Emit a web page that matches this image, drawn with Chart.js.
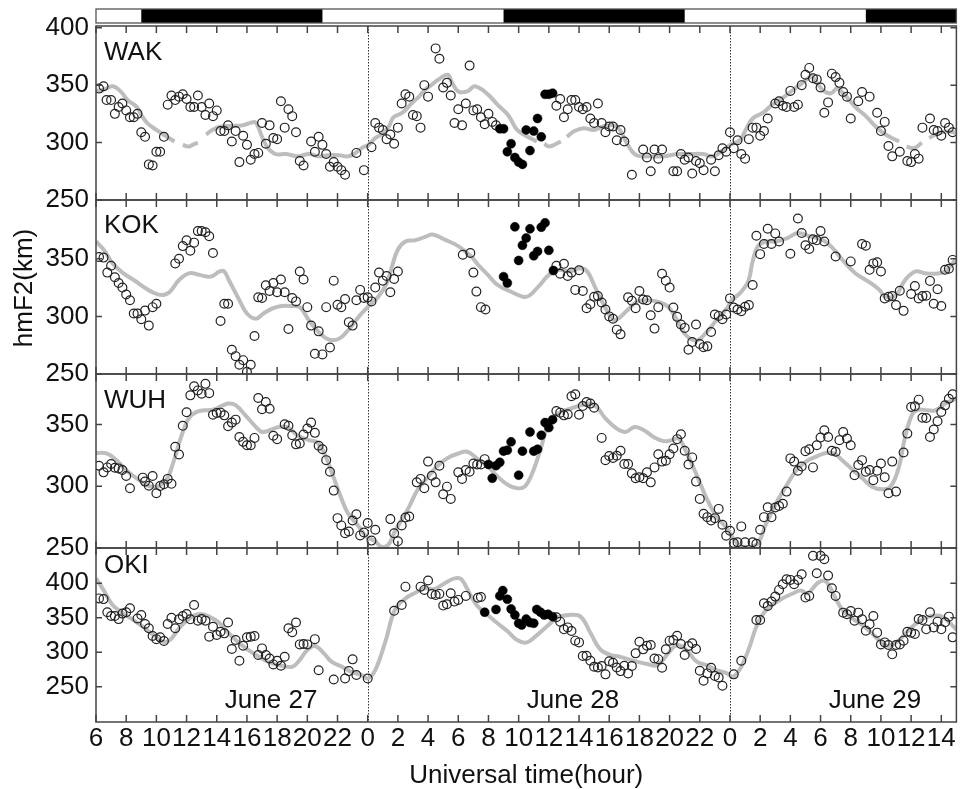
<!DOCTYPE html>
<html><head><meta charset="utf-8">
<script src="https://cdn.jsdelivr.net/npm/chart.js@4/dist/chart.umd.min.js"></script>
<style>html,body{margin:0;padding:0;background:#fff;}#wrap{position:relative;width:962px;height:789px;}canvas{display:block;}</style>
</head><body><div id="wrap"><canvas id="c" width="962" height="789"></canvas></div>
<script>
const stations = ['WAK','KOK','WUH','OKI'];
const dateLabels = ['June 27','June 28','June 29'];
const dateLabelHours = [17.6, 37.6, 57.6];
const dayBoundaryHours = [24, 48];
const nightStartHours = [9, 33, 57];
const nightEndHours = [21, 45, 63];
const xTickHours = [6,8,10,12,14,16,18,20,22,24,26,28,30,32,34,36,38,40,42,44,46,48,50,52,54,56,58,60,62];
const yTicksWAK = [250,300,350,400];
const yTicksKOK = [250,300,350];
const yTicksWUH = [250,300,350];
const yTicksOKI = [250,300,350,400];
const yRangeWAK = [250,401.5];
const yRangeKOK = [250,401];
const yRangeWUH = [250,391];
const yRangeOKI = [199,451];

const wakObs = [[6.2,347],[6.5,349],[6.7,337],[7.0,337],[7.25,325],[7.5,331],[7.75,334],[8.0,328],[8.25,322],[8.5,322],[8.75,325],[9.0,309],[9.25,305],[9.5,281],[9.75,280],[10.0,292],[10.25,292],[10.5,305],[10.75,333],[11.0,341],[11.25,337],[11.5,340],[11.75,342],[12.0,338],[12.25,331],[12.5,331],[12.75,341],[13.0,331],[13.25,324],[13.5,334],[13.75,323],[14.0,328],[14.25,310],[14.5,310],[14.75,315],[15.0,301],[15.25,310],[15.5,283],[15.75,306],[16.0,298],[16.25,285],[16.5,290],[16.75,291],[17.0,317],[17.25,299],[17.5,315],[17.75,304],[18.0,303],[18.25,336],[18.5,313],[18.75,329],[19.0,323],[19.25,309],[19.5,284],[19.75,280],[20.25,301],[20.5,292],[20.75,305],[21.0,298],[21.25,290],[21.5,279],[21.75,283],[22.0,279],[22.25,276],[22.5,272],[23.25,291],[23.75,276],[24.25,296],[24.5,317],[24.75,313],[25.0,311],[25.25,303],[25.5,307],[25.75,299],[26.0,313],[26.25,334],[26.5,342],[26.75,340],[27.0,324],[27.25,323],[27.5,313],[27.75,350],[28.0,340],[28.5,382],[28.75,373],[29.0,348],[29.25,352],[29.5,341],[29.75,317],[30.0,329],[30.25,315],[30.5,334],[30.75,367],[31.0,328],[31.25,329],[31.5,322],[31.75,316],[32.0,325],[32.25,318],[32.5,315],[36.5,332],[36.75,338],[37.0,322],[37.25,329],[37.5,337],[37.75,337],[38.0,331],[38.25,329],[38.5,331],[38.75,321],[39.0,317],[39.25,334],[39.5,317],[39.75,309],[40.0,314],[40.25,314],[40.5,302],[40.75,311],[41.0,301],[41.5,272],[42.25,294],[42.5,287],[42.75,275],[43.0,294],[43.25,286],[43.5,294],[44.25,275],[44.5,275],[44.75,290],[45.0,285],[45.25,287],[45.5,273],[45.75,284],[46.0,282],[46.25,276],[46.75,285],[47.0,275],[47.25,289],[47.5,295],[47.75,292],[48.0,309],[48.25,295],[48.5,302],[48.75,290],[49.0,286],[49.25,303],[49.5,313],[49.75,313],[50.0,306],[50.25,310],[50.5,321],[51.0,334],[51.25,336],[51.5,332],[51.75,331],[52.0,345],[52.25,331],[52.5,333],[52.75,350],[53.0,359],[53.25,365],[53.5,356],[53.75,355],[54.0,348],[54.25,326],[54.5,335],[54.75,360],[55.0,357],[55.25,352],[55.5,344],[55.75,340],[56.0,321],[56.5,336],[56.75,344],[57.25,340],[57.75,326],[58.0,310],[58.25,318],[58.5,297],[58.75,288],[59.25,292],[59.75,284],[60.0,283],[60.25,290],[60.5,286],[60.75,313],[61.25,321],[61.5,311],[61.75,310],[62.0,306],[62.25,317],[62.5,313],[62.75,309]];
const wakDark = [[32.75,312],[33.0,312],[33.25,292],[33.5,299],[33.75,287],[34.0,283],[34.25,281],[34.5,311],[34.75,293],[35.0,310],[35.25,321],[35.5,305],[35.75,342],[36.0,342],[36.25,343]];
const wakModel = [[6.0,345],[6.5,346],[7.1,349],[7.6,345],[8.1,337],[8.7,331],[9.0,324],[9.4,317],[10.0,311],[10.7,305],[11.2,301],[11.45,null],[11.75,298],[12.1,296.5],[12.4,298],[12.75,300],[13.0,null],[13.3,307],[13.7,311],[14.3,314],[15.05,314.5],[15.7,315],[16.5,318],[16.7,315],[17.0,305],[17.4,295],[17.9,290],[18.6,290],[19.4,288],[20.1,290],[20.75,288],[21.4,289],[22.1,289],[22.7,288],[23.2,291],[23.7,296],[24.05,298],[24.5,304],[24.9,307],[25.4,314],[25.7,322],[26.3,326],[26.9,334],[27.4,340],[27.8,346],[28.2,350],[28.7,355],[29.3,359],[29.6,352],[30.0,344.5],[30.6,344.5],[31.1,349],[31.96,342],[32.6,333],[33.3,324],[33.9,311],[34.6,305],[35.2,301],[35.45,null],[35.7,299],[36.0,296.5],[36.5,299],[36.8,301],[37.0,null],[37.2,305],[37.7,310],[38.3,312.5],[39.0,311],[39.6,314],[40.3,315],[40.7,311],[41.3,296.5],[41.8,289],[42.7,288],[43.6,288],[44.5,290],[45.35,290],[46.2,290],[46.9,288],[47.55,293.6],[48.0,298],[48.65,302],[49.1,312.5],[49.5,321],[50.2,326],[50.8,333],[51.5,339],[52.2,346],[52.8,352],[53.4,357.5],[53.7,353],[54.25,344.5],[54.7,343],[55.1,347],[55.7,340],[56.3,331],[57.0,323],[57.65,314],[58.3,307],[59.2,301],[59.45,null],[59.7,296.5],[60.1,295],[60.4,296.5],[60.7,300],[60.95,null],[61.2,304],[61.8,308],[62.5,309.6],[63.0,308.5]];

const kokObs = [[6.2,351.5],[6.5,351],[6.75,338],[7.0,344],[7.25,334],[7.5,329],[7.75,325],[8.0,319],[8.25,314],[8.5,302.5],[8.75,302.5],[9.0,297.5],[9.25,305],[9.5,292],[9.75,308],[10.0,311],[11.25,346],[11.5,350],[11.75,361],[12.0,366],[12.25,357],[12.5,364],[12.75,374],[13.0,374],[13.25,373],[13.5,369.5],[13.75,355],[14.25,296],[14.5,311],[14.75,311],[15.0,271],[15.25,265.5],[15.5,258],[15.75,262],[16.0,252],[16.25,258],[16.5,283],[16.75,316.5],[17.0,316],[17.25,327],[17.5,322],[17.75,329],[18.0,321],[18.25,332],[18.5,321],[18.75,289],[19.0,316],[19.25,313],[19.5,339],[19.75,332],[20.0,308],[20.25,292],[20.5,267.5],[20.75,287],[21.0,267],[21.25,308],[21.5,273],[21.75,331],[22.0,310],[22.25,308],[22.5,315],[22.75,295],[23.0,292],[23.25,314],[23.5,323],[23.75,316],[24.0,316.5],[24.25,313],[24.5,325],[24.75,338],[25.0,331],[25.25,335],[25.5,321],[25.75,332.5],[26.0,339],[30.3,353.5],[30.8,355],[31.0,338],[31.2,321.5],[31.5,308],[31.8,306],[36.5,344],[36.75,337],[37.0,345.6],[37.25,335],[37.5,338],[37.75,323],[38.0,340],[38.25,322],[38.5,307],[38.75,310.6],[39.0,317],[39.25,317.6],[39.5,312],[39.75,306],[40.0,300],[40.25,298],[40.5,288.5],[40.75,284.4],[41.25,316.5],[41.5,313.6],[41.75,307],[42.0,322],[42.25,314.7],[42.5,314],[42.75,301],[43.0,289.4],[43.25,308],[43.5,337],[43.75,331],[44.0,325],[44.25,307.7],[44.5,299.6],[44.75,293],[45.0,290],[45.25,271],[45.5,277.7],[45.75,293],[46.0,276],[46.25,273.3],[46.5,274],[46.75,286.4],[47.0,301.6],[47.25,300.4],[47.5,297.5],[47.75,301.6],[48.0,315.6],[48.25,307.7],[48.5,306],[48.75,304.5],[49.0,308.3],[49.25,309.8],[49.5,327.3],[49.75,370],[50.0,354],[50.25,362.8],[50.5,376],[50.75,362.8],[51.0,372],[51.25,365],[52.0,354.4],[52.5,385],[52.75,372.4],[53.0,361.7],[53.25,358.5],[53.5,367],[53.75,366],[54.0,374],[54.25,365],[55.0,352],[56.0,347.7],[56.75,362.8],[57.0,361.4],[57.25,340.4],[57.5,346],[57.75,347],[58.0,339],[58.25,315.6],[58.5,317],[58.75,317.6],[59.0,309.8],[59.25,322.3],[59.5,304.8],[60.0,319.4],[60.25,326.4],[60.5,315.6],[60.75,317.6],[61.0,318],[61.25,330.8],[61.5,311],[61.75,323.5],[62.0,309],[62.25,340.4],[62.5,341.3],[62.75,349]];
const kokDark = [[33.0,334.5],[33.25,329],[33.75,377.7],[34.0,348.5],[34.25,361.7],[34.5,368],[34.75,376],[35.0,352.6],[35.25,356.4],[35.5,377.4],[35.75,381.2],[36.0,357.3],[36.3,339.8]];
const kokModel = [[6.0,365],[6.5,358],[7.1,346],[7.8,337.5],[8.5,331.6],[9.1,326],[9.8,320.6],[10.4,318.5],[10.9,321.4],[11.5,331.6],[12.2,337.5],[12.85,336],[13.6,334.5],[14.2,339],[14.5,339],[14.8,331.6],[15.5,314],[16.0,302.5],[16.6,298],[17.1,302.5],[17.7,307],[18.3,309],[19.0,309],[19.5,308],[20.1,296.6],[20.75,286.4],[21.4,280],[22.1,280.6],[22.7,288],[23.4,299.6],[24.0,308],[24.7,317],[25.26,328.7],[25.6,343],[26.0,358],[26.5,365],[27.1,366],[27.8,369],[28.3,371],[29.1,366.6],[30.0,361],[30.86,352],[31.3,345],[31.96,336],[32.6,327.3],[33.5,321.4],[34.5,317],[35.25,325],[36.0,336],[36.7,340.4],[37.3,339],[38.1,341.8],[38.55,339],[39.1,324.3],[39.6,311],[40.2,298],[40.5,297.2],[41.2,305.4],[41.84,312.7],[42.5,314],[43.2,312.7],[43.9,308.3],[44.5,296.6],[45.1,283.5],[45.8,279.2],[46.45,286.4],[47.1,296.6],[47.8,307],[48.1,314],[48.65,320],[49.2,330],[49.5,347.7],[49.86,361],[50.4,365],[51.06,365],[51.8,368],[52.5,372.4],[53.26,369.5],[54.1,366.6],[54.8,359.3],[55.45,349],[56.3,337.5],[57.2,330],[57.9,323],[58.3,317],[59.0,318.5],[59.6,331.6],[60.3,339],[60.9,337.5],[61.6,337],[62.26,339],[63.0,350]];

const wuhObs = [[6.2,316.7],[6.5,311.3],[6.75,315.3],[7.0,318],[7.25,315],[7.5,314.5],[7.75,313.2],[8.0,308.3],[8.25,298.4],[9.1,307],[9.25,303.8],[9.5,300.5],[9.75,308.3],[10.0,294.4],[10.25,300.3],[10.5,301.6],[10.75,306],[11.0,302],[11.25,332],[11.5,325.8],[11.75,349],[12.0,360],[12.25,373.7],[12.5,381],[12.75,377.7],[13.0,375],[13.25,383],[13.5,375.5],[13.75,358],[14.0,359.4],[14.25,359.7],[14.5,357.5],[14.75,348.7],[15.0,351.6],[15.25,354],[15.5,340],[15.75,336],[16.0,333.3],[16.25,333.3],[16.5,339.2],[16.75,371.5],[17.0,362.4],[17.25,368.3],[17.5,362.9],[17.75,341],[18.0,338.2],[18.5,350.3],[18.75,349],[19.0,341.4],[19.25,334],[19.5,334.7],[19.75,342],[20.0,346.8],[20.25,351.6],[20.5,343.3],[20.75,332.8],[21.0,330],[21.25,321.2],[21.5,311.8],[21.75,296.5],[22.0,274.2],[22.25,268.3],[22.5,262],[22.75,263.4],[23.0,272.3],[23.25,277.4],[23.5,260.2],[23.75,262.6],[24.0,270.2],[24.25,256],[24.5,264.8],[25.5,273.4],[25.75,262],[26.0,255.4],[26.25,268.3],[26.5,274.7],[26.75,275.5],[27.25,303.2],[27.5,306],[27.75,298.4],[28.0,320],[28.25,308.6],[28.5,303.2],[28.75,316.7],[29.0,293.5],[29.25,299.7],[29.5,289.8],[30.0,311.3],[30.25,306],[30.5,313.2],[30.75,311.8],[31.0,318.5],[31.25,317.7],[31.5,317.7],[31.75,322],[36.5,361],[36.75,359.7],[37.0,357.5],[37.25,358.3],[37.5,373],[37.75,374.5],[38.0,358],[38.25,365],[38.5,368.3],[38.75,367],[39.0,363.7],[39.5,339.2],[39.75,321.2],[40.0,324.5],[40.25,323],[40.5,324.7],[40.75,328.8],[41.0,318],[41.25,318],[41.5,310.5],[41.75,306.5],[42.0,307.3],[42.25,306.5],[42.5,311.3],[42.75,303.2],[43.0,315.3],[43.25,326],[43.5,320],[43.75,320.7],[44.0,326],[44.25,330.6],[44.5,338.2],[44.75,342.2],[45.0,328.8],[45.25,317.7],[45.5,323.4],[45.75,303.8],[46.0,289.8],[46.25,277.7],[46.5,275],[46.75,272.3],[47.0,274.2],[47.25,281.7],[47.5,268.8],[47.75,260],[48.0,264],[48.25,254],[48.5,254.6],[48.75,267.5],[49.0,254.6],[49.5,254.6],[49.75,253.5],[50.0,264.8],[50.25,275],[50.5,283],[50.75,275],[51.0,282.8],[51.25,284],[51.5,285.8],[51.75,295.7],[52.0,322.6],[52.25,320],[52.5,312.6],[52.75,316],[53.0,328.5],[53.25,330],[53.5,315.3],[53.75,333.3],[54.0,339.5],[54.25,345.4],[54.5,340],[54.75,328.8],[55.0,328],[55.25,337.4],[55.5,344],[55.75,338.7],[56.0,333.3],[56.25,309],[56.5,317.2],[56.75,321.2],[57.0,311.8],[57.25,313.2],[57.5,305],[57.75,312.6],[58.0,318.5],[58.25,307.3],[58.5,294.4],[58.75,320],[59.0,295.7],[59.5,327.4],[59.75,342.7],[60.0,364.2],[60.25,364.8],[60.5,370.2],[60.75,355.6],[61.0,355.4],[61.25,340],[61.5,346],[61.75,352.7],[62.0,360.2],[62.25,365.6],[62.5,371],[62.75,374.5]];
const wuhDark = [[32.0,317.7],[32.25,306.5],[32.5,316.7],[32.75,319.4],[33.0,328.5],[33.25,329.3],[33.5,336],[34.0,309],[34.25,328.5],[34.75,344],[35.0,328.5],[35.25,330],[35.5,341.4],[35.75,351.6],[35.9,350.8],[36.0,347.6],[36.25,354]];
const wuhModel = [[6.0,327],[6.7,326.6],[7.36,321],[8.0,313],[8.7,306.5],[9.34,301],[10.0,299.7],[10.65,305],[11.1,318.5],[11.64,340],[12.2,356],[12.85,361],[13.73,362],[14.4,365.6],[14.83,367],[15.27,365.6],[15.9,357.5],[16.6,348],[17.0,344],[17.5,345.4],[18.1,348],[18.67,348],[19.33,341.4],[20.1,337.4],[20.6,336],[21.08,328],[21.6,312],[22.2,292],[22.7,278],[23.4,267.5],[23.9,259.4],[24.5,255.4],[24.9,251],[25.37,252.7],[25.8,263.4],[26.25,272.8],[26.7,282.3],[27.3,297],[28.0,307.8],[28.66,317],[29.3,323],[30.0,326.6],[30.6,328],[31.3,322],[31.96,316],[32.6,308],[33.3,301],[33.9,298.4],[34.4,299.7],[34.9,310.5],[35.5,332],[35.9,348],[36.6,359],[37.45,363],[38.1,365.6],[38.8,367],[39.2,364],[39.75,355],[40.5,346.8],[41.07,344],[41.7,348],[42.3,345.4],[42.94,340],[43.6,336.6],[44.15,337.4],[44.6,338.7],[45.1,328],[45.8,309],[46.45,290.3],[47.1,275.5],[47.8,266],[48.2,258],[48.65,252],[49.3,251],[49.86,254],[50.4,270],[51.06,286.3],[51.7,299.7],[52.4,313],[53.04,320],[53.7,324],[54.36,327],[54.9,326.6],[55.45,321],[56.1,313.7],[56.77,306.5],[57.4,299.7],[58.1,297.6],[58.64,299.7],[59.2,316],[59.6,340],[60.1,359],[60.5,362],[61.05,361.6],[61.6,361.6],[62.26,367],[63.0,371]];

const okiObs = [[6.2,378],[6.5,377],[6.75,358],[7.0,352.6],[7.25,352.6],[7.5,348],[7.75,356],[8.0,358],[8.25,363.7],[8.75,349],[9.0,354],[9.25,341],[9.5,334.7],[9.75,323.5],[10.0,319],[10.25,321.6],[10.5,316.3],[10.75,341],[11.0,350],[11.25,334.7],[11.5,347.7],[11.75,352.6],[12.0,355.5],[12.25,347.7],[12.5,368.5],[12.75,345.8],[13.0,348],[13.25,345.8],[13.5,322.6],[13.75,337],[14.0,325],[14.25,329.8],[14.5,327.4],[14.75,343],[15.0,304.7],[15.25,317.7],[15.5,287.7],[15.75,309.5],[16.0,321.6],[16.25,322.6],[16.5,323.5],[16.75,296],[17.0,305.6],[17.25,296],[17.5,291],[17.75,282.4],[18.0,287.7],[18.25,280.5],[18.5,293.5],[18.75,334.7],[19.0,329],[19.25,343],[19.5,311.4],[19.75,312],[20.0,311.4],[20.5,319],[20.75,274],[21.75,260.6],[22.5,262],[22.75,272.7],[23.0,289.7],[23.25,267],[24.0,262],[25.75,360],[26.25,368.5],[26.5,395],[27.5,395],[27.75,390.3],[28.0,404],[28.25,384.5],[28.5,383],[28.75,384.5],[29.0,367.6],[29.25,369.5],[29.5,385.5],[29.75,373.4],[30.0,375.8],[30.5,381.6],[31.3,379],[31.5,380],[36.5,350.6],[36.75,344.3],[37.0,333.2],[37.25,336],[37.5,330.8],[37.75,316.8],[38.0,314.3],[38.25,294.5],[38.5,295],[38.75,287.7],[39.0,279],[39.25,278],[39.5,280],[39.75,268],[40.0,287],[40.25,284.8],[40.5,278],[40.75,272.7],[41.0,280.5],[41.25,269.4],[41.5,280],[41.75,298.4],[42.0,315.3],[42.25,304.2],[42.5,309.5],[42.75,310.5],[43.0,291],[43.25,290],[43.5,277.6],[43.75,304.2],[44.0,316.8],[44.25,317.7],[44.5,324],[44.75,312],[45.0,296],[45.25,309],[45.5,313],[45.75,304.7],[46.0,273.2],[46.25,258.7],[46.5,269.4],[46.75,277.6],[47.0,265.5],[47.25,263.5],[47.5,251.5],[48.25,268],[48.75,287.7],[49.75,346.8],[50.0,346.8],[50.25,371],[50.5,367],[50.75,373.4],[51.0,380.6],[51.25,390.3],[51.5,398.5],[51.75,405.8],[52.0,404.8],[52.25,398.5],[52.5,404.8],[52.75,413],[53.0,379.2],[53.25,381.6],[53.5,439.6],[53.75,414.5],[54.0,439.6],[54.25,434.8],[54.5,411],[54.75,392.7],[55.0,381.6],[55.5,357.4],[55.75,355],[56.0,359.8],[56.25,345.8],[56.5,357.4],[56.75,347.7],[57.0,331.3],[57.25,340.5],[57.5,352.6],[57.75,328.4],[58.0,311.4],[58.25,314.3],[58.5,310.5],[58.75,297],[59.0,310.5],[59.25,311.4],[59.5,316.8],[59.75,329.8],[60.0,328.4],[60.25,326.4],[60.5,348.2],[60.75,346.8],[61.0,333.2],[61.25,358],[61.5,336],[61.75,344.3],[62.0,333.2],[62.25,343.4],[62.5,351.6],[62.75,321.6]];
const okiDark = [[31.75,358],[32.5,362],[32.75,381.6],[32.95,389.3],[33.25,376.8],[33.5,362.7],[33.75,354],[34.0,342],[34.2,339.5],[34.5,348],[34.75,343],[35.0,342],[35.2,362],[35.45,358],[35.7,354],[35.95,355],[36.25,351.6]];
const okiModel = [[6.0,407],[6.5,390],[7.1,368.5],[7.8,356.4],[8.46,346.8],[9.1,337],[9.8,325],[10.4,315.3],[10.9,317.7],[11.5,334.7],[12.2,349.2],[12.85,355.5],[13.5,351.6],[14.2,342],[14.8,327.4],[15.5,313],[16.1,303.2],[16.8,293.5],[17.4,286.3],[18.1,281.4],[19.0,279],[19.4,286.3],[20.0,303.2],[20.5,309],[21.1,298.4],[21.6,286.3],[22.3,279],[22.9,271.8],[23.6,267],[24.0,262],[24.5,274],[25.2,317.7],[25.8,361.3],[26.5,378],[27.1,385.5],[27.8,392.7],[28.4,391.3],[29.1,400],[29.76,407],[30.2,405.8],[30.86,380.6],[31.3,366],[31.96,354],[32.6,342],[33.3,329.8],[33.9,317.7],[34.5,314],[35.1,322.6],[35.9,338],[36.6,350.6],[37.34,354],[38.1,351.6],[38.77,327.4],[39.4,304.2],[40.1,296],[40.7,293.5],[41.6,287.7],[42.5,283],[43.2,281.4],[43.9,298.4],[44.5,310.5],[45.1,303.2],[45.8,286.3],[46.45,281.4],[47.1,274.2],[47.8,269.4],[48.2,264.5],[48.75,279],[49.3,308],[49.75,337],[50.4,361.3],[51.3,375.8],[52.2,385.5],[52.7,389.3],[53.15,385.5],[53.8,400],[54.25,403.8],[54.6,395],[55.0,378],[55.45,361.3],[56.1,349.2],[56.77,339.5],[57.4,327.4],[58.0,315.3],[58.5,309],[59.2,317.7],[59.85,332.2],[60.5,344.3],[61.16,351.6],[62.04,351.6],[63.0,333]];

const FONT = "'Liberation Sans', Arial, Helvetica, sans-serif";
Chart.defaults.font.family = FONT;
Chart.defaults.color = '#111';

const toXY = arr => arr.map(p => ({x: p[0], y: p[1]}));
const panels = [
  {id:'yWAK', obs:wakObs, dark:wakDark, model:wakModel, range:yRangeWAK, ticks:yTicksWAK},
  {id:'yKOK', obs:kokObs, dark:kokDark, model:kokModel, range:yRangeKOK, ticks:yTicksKOK},
  {id:'yWUH', obs:wuhObs, dark:wuhDark, model:wuhModel, range:yRangeWUH, ticks:yTicksWUH},
  {id:'yOKI', obs:okiObs, dark:okiDark, model:okiModel, range:yRangeOKI, ticks:yTicksOKI}
];

const datasets = [];
const scales = {
  x: {
    type:'linear', position:'bottom', min:6, max:63,
    grid:{display:false, drawTicks:true, tickLength:1}, border:{display:false},
    afterBuildTicks: s => { s.ticks = xTickHours.map(v => ({value:v})); },
    ticks:{autoSkip:false, maxRotation:0, minRotation:0, padding:0, color:'#111',
      font:{size:26}, callback: v => String(v % 24)},
    title:{display:true, text:'Universal time(hour)', color:'#111', font:{size:26, lineHeight:1}, padding:{top:0,bottom:0}},
    afterFit: s => { s.height = 67; s.paddingLeft = 0; s.paddingRight = 0; }
  }
};
panels.forEach((p, i) => {
  scales[p.id] = {
    type:'linear', position:'left', stack:'panels', stackWeight:1, weight: 10 - i,
    min:p.range[0], max:p.range[1],
    grid:{display:false, drawTicks:false}, border:{display:false},
    afterBuildTicks: s => { s.ticks = p.ticks.map(v => ({value:v})); },
    ticks:{autoSkip:false, padding:7, color:'#111', font:{size:26}},
    afterFit: s => { s.width = 96; s.paddingTop = 0; s.paddingBottom = 0; }
  };
  datasets.push({
    label: stations[i] + ' model', data: toXY(p.model), xAxisID:'x', yAxisID:p.id,
    showLine:true, borderColor:'#bdbdbd', borderWidth:4, pointRadius:0, tension:0.4,
    spanGaps:false, fill:false, order:3
  });
  datasets.push({
    label: stations[i] + ' observed', data: toXY(p.obs), xAxisID:'x', yAxisID:p.id,
    showLine:false, pointRadius:4.4, borderWidth:1.2, borderColor:'#222',
    backgroundColor:'rgba(0,0,0,0)', order:2
  });
  datasets.push({
    label: stations[i] + ' observed (filled)', data: toXY(p.dark), xAxisID:'x', yAxisID:p.id,
    showLine:false, pointRadius:4.5, borderWidth:0.5, borderColor:'#000',
    backgroundColor:'#000', order:1
  });
});

const decor = {
  id:'decor',
  beforeDatasetsDraw(chart) {
    const {ctx, chartArea:a, scales:sc} = chart;
    ctx.save();
    ctx.strokeStyle = '#333'; ctx.lineWidth = 1; ctx.setLineDash([1.5, 1.5]);
    dayBoundaryHours.forEach(h => {
      const px = Math.round(sc.x.getPixelForValue(h)) + 0.5;
      ctx.beginPath(); ctx.moveTo(px, a.top); ctx.lineTo(px, a.bottom); ctx.stroke();
    });
    ctx.restore();
  },
  afterDraw(chart) {
    const {ctx, chartArea:a, scales:sc} = chart;
    const x = sc.x;
    ctx.save();
    ctx.strokeStyle = '#444'; ctx.lineWidth = 1.5;
    panels.forEach(p => {
      const s = sc[p.id];
      ctx.strokeRect(a.left, s.top, a.right - a.left, s.bottom - s.top);
      ctx.beginPath();
      xTickHours.forEach(h => {
        const px = x.getPixelForValue(h);
        ctx.moveTo(px, s.top); ctx.lineTo(px, s.top + 7);
        ctx.moveTo(px, s.bottom); ctx.lineTo(px, s.bottom - 7);
      });
      s.ticks.forEach(t => {
        const py = s.getPixelForValue(t.value);
        ctx.moveTo(a.left, py); ctx.lineTo(a.left + 6, py);
        ctx.moveTo(a.right, py); ctx.lineTo(a.right - 6, py);
      });
      ctx.stroke();
    });
    const barTop = a.top - 17, barH = 14;
    ctx.fillStyle = '#000';
    nightStartHours.forEach((h, i) => {
      const x0 = x.getPixelForValue(h), x1 = x.getPixelForValue(nightEndHours[i]);
      ctx.fillRect(x0, barTop, x1 - x0, barH);
    });
    ctx.strokeStyle = '#555'; ctx.lineWidth = 1.3;
    ctx.strokeRect(a.left, barTop, a.right - a.left, barH);
    ctx.fillStyle = '#111';
    ctx.font = '26px ' + FONT;
    ctx.textBaseline = 'alphabetic';
    ctx.textAlign = 'left';
    const labelOffsets = [34, 33, 34, 25];
    panels.forEach((p, i) => {
      const s = sc[p.id];
      ctx.fillText(stations[i], a.left + 8, s.top + labelOffsets[i]);
    });
    ctx.textAlign = 'center';
    dateLabels.forEach((t, i) => {
      ctx.fillText(t, x.getPixelForValue(dateLabelHours[i]), a.bottom - 14);
    });
    const kok = sc.yKOK;
    ctx.translate(32, (kok.top + kok.bottom) / 2 + 1);
    ctx.rotate(-Math.PI / 2);
    ctx.fillText('hmF2(km)', 0, 0);
    ctx.restore();
  }
};

new Chart(document.getElementById('c'), {
  type:'scatter',
  data:{datasets},
  options:{
    responsive:false, animation:false, events:[],
    layout:{padding:{top:26, right:1, left:0, bottom:0}},
    plugins:{legend:{display:false}, tooltip:{enabled:false}, title:{display:false}},
    scales
  },
  plugins:[decor]
});
</script></body></html>
